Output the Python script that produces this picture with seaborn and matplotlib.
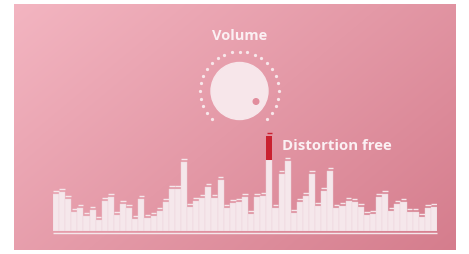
import numpy as np
import pandas as pd
import seaborn as sns
import matplotlib.pyplot as plt
from matplotlib.colors import to_rgb
from matplotlib.patches import Circle

# --- DATA ---
# equalizer bar levels (pixel-ish units above the baseline)
BAR_LEVELS = [37, 39, 32, 19, 23, 15, 21, 11, 30, 34, 16, 27, 23, 12, 32, 13,
              15, 20, 29, 42, 42, 69, 24, 30, 33, 44, 33, 51, 23, 28, 29, 34,
              17, 34, 35, 71, 23, 57, 70, 18, 29, 35, 57, 25, 40, 60, 23, 25,
              30, 29, 24, 16, 17, 34, 37, 20, 27, 29, 19, 19, 14, 23, 24]
PEAK_BAR = 35          # index of the bar with the red "distortion" segment
PEAK_EXTRA = 24        # height of the red segment
TITLE = "Volume"
PEAK_LABEL = "Distortion free"

# --- STYLE ---
W, H = 469, 255
BG_TOP_LEFT = "#f3b5c1"
BG_BOTTOM_RIGHT = "#d57d8d"
BAR_COLOR = "#f5e7eb"
BAR_EDGE = "#ecd3da"
RED = "#c9202f"
TEXT_COLOR = "#fbf0f3"

sns.set_theme(style="white")
plt.rcParams['font.family'] = ['Open Sans', 'DejaVu Sans']

fig = plt.figure(figsize=(W / 100, H / 100), dpi=100, facecolor="white")

# full-figure axes in pixel coordinates for the backdrop and the knob
ax_px = fig.add_axes([0, 0, 1, 1])
ax_px.set_xlim(0, W)
ax_px.set_ylim(H, 0)
ax_px.axis("off")

# diagonal pink gradient
gx, gy = np.meshgrid(np.linspace(0, 1, 300), np.linspace(0, 1, 200))
t = np.clip(0.6 * gx + 0.4 * gy, 0, 1)[..., None]
c0, c1 = np.array(to_rgb(BG_TOP_LEFT)), np.array(to_rgb(BG_BOTTOM_RIGHT))
grad = c0 * (1 - t) + c1 * t
ax_px.imshow(grad, extent=[14, 456, 251, 5], aspect="auto", zorder=0)

# knob with dotted ring
cx, cy, r = 239.5, 92, 28.5
ax_px.add_patch(Circle((cx, cy), r, color="#f7e6ea", zorder=2))
ax_px.add_patch(Circle((256, 102.5), 2.8, color="#e28d9d", zorder=3))
angles = np.deg2rad(np.linspace(225, -45, 25))
ax_px.scatter(cx + 39.5 * np.cos(angles), cy - 39.5 * np.sin(angles),
              s=5.5, color="#f8e6ea", linewidths=0, zorder=2)

ax_px.text(cx, 36, TITLE, ha="center", va="center", fontsize=10.5,
           fontweight="bold", color=TEXT_COLOR, zorder=3)
ax_px.text(282, 146, PEAK_LABEL, ha="left", va="center", fontsize=10.8,
           fontweight="bold", color=TEXT_COLOR, zorder=3)

# baseline strip under the bars
ax_px.plot([53, 437], [234.3, 234.3], color=BAR_COLOR, lw=1.0,
           solid_capstyle="butt", zorder=2)

# --- BARS ---
base_px = 232
ax = fig.add_axes([53 / W, (H - base_px) / H, 384 / W, 110 / H])
ax.patch.set_alpha(0)
df = pd.DataFrame({"band": range(len(BAR_LEVELS)), "level": BAR_LEVELS})
sns.barplot(data=df, x="band", y="level", color=BAR_COLOR, width=1.0,
            saturation=1, edgecolor=BAR_EDGE, linewidth=0.3, ax=ax)
ax.set_ylim(0, 110)
ax.set_xlim(-0.5, len(BAR_LEVELS) - 0.5)
ax.axis("off")

bars = list(ax.patches)
# red distortion segment on top of the peak bar
p = bars[PEAK_BAR]
ax.bar(p.get_x(), PEAK_EXTRA, width=p.get_width(), bottom=p.get_height(),
       align="edge", color=RED, linewidth=0)

# small caps floating above every bar
for i, p in enumerate(bars):
    top = p.get_height() + (PEAK_EXTRA if i == PEAK_BAR else 0)
    ax.hlines(top + 2.6, p.get_x() + 0.05, p.get_x() + p.get_width() - 0.05,
              color=RED if i == PEAK_BAR else BAR_COLOR, lw=1.0)

fig.savefig("out.png", dpi=100, facecolor="white")
